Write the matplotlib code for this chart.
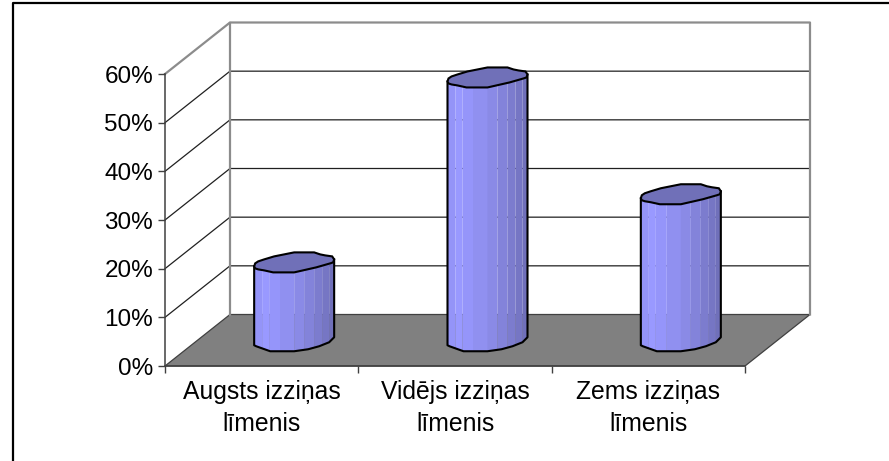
import numpy as np
import matplotlib
matplotlib.use("Agg")
import matplotlib.pyplot as plt
from matplotlib.patches import Polygon
from matplotlib.lines import Line2D

categories = ['Augsts izziņas\nlīmenis', 'Vidējs izziņas\nlīmenis', 'Zems izziņas\nlīmenis']
values = [16, 54, 30]
ytick_values = [0, 10, 20, 30, 40, 50, 60]
ytick_labels = ['0%', '10%', '20%', '30%', '40%', '50%', '60%']

W, H = 889, 461
# front plane of the plot in pixels
LEFT, RIGHT, BOTTOM, TOP = 165, 745, 366, 74
# oblique depth in pixels
DEPTH_X, DEPTH_Y = 65, 51.5

# cylinder outline in pixels relative to the centre of its end cap
top_x = [-40, -39, -36, -30, -20, 0, 10, 20, 26, 31, 38, 40, 39, 36, 22, 0, -21, -30, -36, -39]
top_y = [4, 1, -1, -3, -6, -10, -10, -10, -8, -7, -6, -3, 0, 1, 5, 10, 10, 8, 7, 6]
upper_x = [-40, -39, -36, -30, -21, 0, 22, 36, 39, 40]
upper_y = [4, 6, 7, 8, 10, 10, 5, 1, 0, -3]
front_x = [-40, -38, -24, 0, 14, 25, 35, 40]
front_y = [5, 6, 11, 11, 9, 6, 2, -3]
# shading of the sides, left to right
facet_edges = [-40, -32, -25, -14, 0, 10, 20, 28, 35, 40]
facet_colors = ['#9494f8', '#9999ff', '#9595fa', '#9090f0', '#8a8ae6', '#8383da', '#7c7cce', '#7676c4', '#7070ba']
cap_color = '#7070b8'


def main():
    plt.rcParams['font.family'] = ['Liberation Sans']
    fig = plt.figure(figsize=(W / 100, H / 100), dpi=100)
    ax = fig.add_axes([LEFT / W, 1 - BOTTOM / H, (RIGHT - LEFT) / W, (BOTTOM - TOP) / H])
    ax.set_xlim(0, 3)
    ax.set_ylim(0, 60)
    ax.patch.set_visible(False)

    # pixels to data units
    sx = 3 / (RIGHT - LEFT)
    sy = 60 / (BOTTOM - TOP)
    dx = DEPTH_X * sx
    dy = DEPTH_Y * sy
    ymax = 60 + dy

    # outer frame, only left and top show
    fig.add_artist(Line2D([12.5 / W, 12.5 / W, 1], [0, 1 - 3.5 / H, 1 - 3.5 / H], color='black', lw=1.6))

    # floor and walls
    ax.add_patch(Polygon([(0, 0), (3, 0), (3 + dx, dy), (dx, dy)], fc='#808080', ec='#404040', lw=0.9, clip_on=False, zorder=1))
    # gridlines across both walls
    for v in ytick_values[1:-1]:
        ax.plot([0, dx, 3 + dx], [v, v + dy, v + dy], color='#202020', lw=0.9, clip_on=False, zorder=1.1)
    ax.plot([0, dx, 3 + dx, 3 + dx], [60, ymax, ymax, dy], color='#8c8c8c', lw=1.6, clip_on=False, zorder=1.2)
    ax.plot([dx, dx], [dy, ymax], color='#8c8c8c', lw=1.6, clip_on=False, zorder=1.2)

    # cylinders, the centre of each sits halfway into the depth
    for i, val in enumerate(values):
        cx = i + 0.5 + dx / 2
        cy = dy / 2
        top = cy + val
        xs = np.array(facet_edges)
        upper = np.interp(xs, upper_x, upper_y)
        lower = np.interp(xs, front_x, front_y)
        for j, col in enumerate(facet_colors):
            px = [xs[j], xs[j + 1], xs[j + 1], xs[j]]
            py_top = [top - upper[j] * sy, top - upper[j + 1] * sy]
            py_bot = [cy - lower[j + 1] * sy, cy - lower[j] * sy]
            ax.add_patch(Polygon(np.column_stack([cx + np.array(px) * sx, py_top + py_bot]),
                                 fc=col, ec='none', clip_on=False, zorder=3))
        ax.add_patch(Polygon(np.column_stack([cx + np.array(top_x) * sx, top - np.array(top_y) * sy]),
                             fc=cap_color, ec='black', lw=1.5, clip_on=False, zorder=4))
        # side and bottom outline
        ox = [-40] + front_x + [40]
        oy = [top - 4 * sy] + list(cy - np.array(front_y) * sy) + [top + 3 * sy]
        ax.plot(cx + np.array(ox) * sx, oy, color='black', lw=1.5, clip_on=False, zorder=3.5)

    for s in ['top', 'right']:
        ax.spines[s].set_visible(False)
    for s in ['left', 'bottom']:
        ax.spines[s].set_color('#404040')
        ax.spines[s].set_linewidth(1.1)
        ax.spines[s].set_zorder(2)

    ax.set_yticks(ytick_values)
    ax.set_yticklabels(ytick_labels, fontsize=17.5, color='black')
    ax.set_xticks([0, 1, 2, 3])
    ax.set_xticklabels([])
    ax.set_xticks([0.5, 1.5, 2.5], minor=True)
    ax.set_xticklabels(categories, minor=True, fontsize=17.8, linespacing=1.45)
    ax.tick_params(axis='x', which='minor', length=0, pad=10)
    ax.tick_params(axis='both', which='major', length=5, width=1.0, color='#404040', pad=3.6)

    fig.savefig('out.png', dpi=100)


if __name__ == "__main__":
    main()
